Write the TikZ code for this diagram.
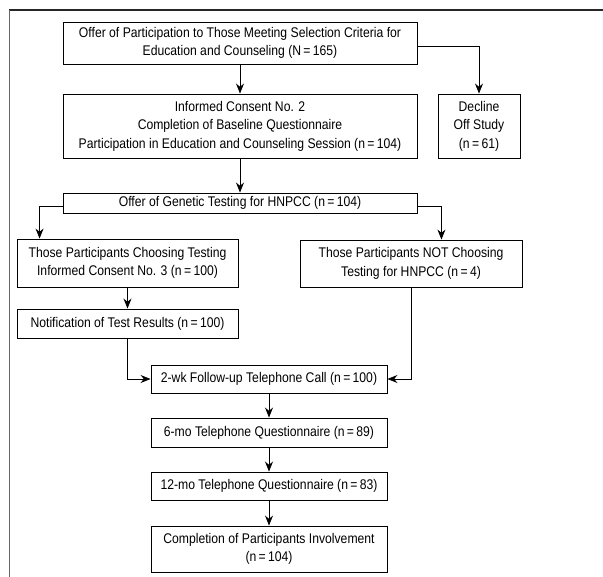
\documentclass[tikz,border=0pt]{standalone}
\usepackage{fontspec}
\setmainfont{Liberation Sans}[FakeStretch=0.87]
\usetikzlibrary{arrows.meta,positioning}

\tikzset{
	stage/.style={draw, line width=0.9pt, align=center, inner sep=2pt,
		font=\fontsize{14}{18.5}\selectfont},
	flow/.style={line width=0.8pt, -{Stealth[length=10pt,width=8pt]}}
}

\begin{document}
\begin{tikzpicture}[x=1pt,y=-1pt]
	\useasboundingbox (0,0) rectangle (603,577);

	% frame
	\draw [line width=1.3pt, black!85] (9,10) -- (603,10);
	\draw [line width=1.6pt, black!60] (9.5,10) -- (9.5,577);

	\node [stage, minimum width=354pt, minimum height=42pt] (offer) at (240,43)
		{Offer of Participation to Those Meeting Selection Criteria for\\Education and Counseling (N\,=\,165)};

	\node [stage, minimum width=354pt, minimum height=64pt] (consent) at (240,126)
		{Informed Consent No. 2\\Completion of Baseline Questionnaire\\Participation in Education and Counseling Session (n\,=\,104)};

	\node [stage, minimum width=82pt, minimum height=64pt] (decline) at (479,126)
		{Decline\\Off Study\\(n\,=\,61)};

	\node [stage, minimum width=354pt, minimum height=20pt] (genetic) at (240,203)
		{Offer of Genetic Testing for HNPCC (n\,=\,104)};

	\node [stage, minimum width=221pt, minimum height=48pt] (choose) at (127.5,263)
		{Those Participants Choosing Testing\\Informed Consent No. 3 (n\,=\,100)};

	\node [stage, minimum width=222pt, minimum height=47pt] (notchoose) at (411,263.5)
		{Those Participants NOT Choosing\\Testing for HNPCC (n\,=\,4)};

	\node [stage, minimum width=221pt, minimum height=29pt] (notify) at (127.5,323.5)
		{Notification of Test Results (n\,=\,100)};

	\node [stage, minimum width=236pt, minimum height=28pt] (followup) at (269,379)
		{2-wk Follow-up Telephone Call (n\,=\,100)};

	\node [stage, minimum width=236pt, minimum height=29pt] (sixmo) at (269,432.5)
		{6-mo Telephone Questionnaire (n\,=\,89)};

	\node [stage, minimum width=236pt, minimum height=28pt] (twelvemo) at (269,486)
		{12-mo Telephone Questionnaire (n\,=\,83)};

	\node [stage, minimum width=236pt, minimum height=46pt] (complete) at (269,549)
		{Completion of Participants Involvement\\(n\,=\,104)};

	% connectors
	\draw [flow] (offer) -- (consent);
	\draw [flow] ([yshift=-3pt]offer.east) -| (decline.north);
	\draw [flow] (consent) -- (genetic);
	\draw [flow] ([yshift=-3pt]genetic.west) -| ([xshift=23pt]choose.north west);
	\draw [flow] ([yshift=-3pt]genetic.east) -| ([xshift=-81pt]notchoose.north east);
	\draw [flow] (choose) -- (notify);
	\draw [flow] (notify.south) |- (followup.west);
	\draw [flow] (notchoose.south) |- (followup.east);
	\draw [flow] (followup) -- (sixmo);
	\draw [flow] (sixmo) -- (twelvemo);
	\draw [flow] (twelvemo) -- (complete);
\end{tikzpicture}
\end{document}
